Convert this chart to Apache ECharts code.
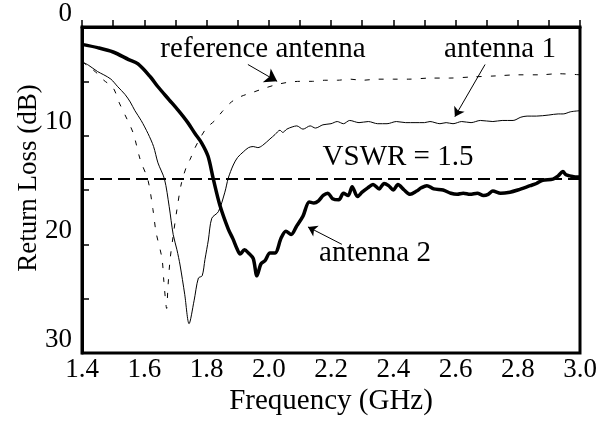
<!DOCTYPE html>
<html>
<head>
<meta charset="utf-8">
<script src="https://cdn.jsdelivr.net/npm/echarts@6/dist/echarts.min.js"></script>
<style>
html,body{margin:0;padding:0;background:#fff;}
#chart{width:604px;height:421px;}
</style>
</head>
<body>
<div id="chart"></div>
<script>
// ---- data ----
const xTickLabels = ['1.4','1.6','1.8','2.0','2.2','2.4','2.6','2.8','3.0'];
const yTickLabels = ['0','10','20','30'];

const freqAnt2 = [1.40,1.45,1.50,1.55,1.58,1.62,1.644,1.68,1.71,1.74,1.763,1.785,1.805,1.822,1.843,1.87,1.885,1.898,1.908,1.922,1.935,1.95,1.962,1.975,1.988,2.004,2.02,2.04,2.055,2.072,2.09,2.11,2.13,2.145,2.16,2.175,2.19,2.205,2.225,2.24,2.255,2.268,2.285,2.30,2.318,2.335,2.355,2.37,2.385,2.40,2.415,2.435,2.454,2.475,2.49,2.508,2.53,2.56,2.585,2.605,2.625,2.647,2.67,2.69,2.705,2.72,2.745,2.775,2.80,2.84,2.86,2.88,2.913,2.93,2.945,2.955,2.968,2.985,3.00];
const rlAnt2   = [1.6,1.9,2.3,3.0,3.4,4.6,5.5,6.7,7.7,8.8,9.8,10.7,11.9,14.0,16.4,18.6,19.5,20.4,20.9,20.5,20.8,21.3,22.9,21.8,21.5,20.8,20.8,19.4,18.8,19.1,18.3,17.4,16.1,16.2,16.0,15.5,15.3,15.8,15.9,15.3,15.5,14.7,15.6,15.2,14.8,14.5,14.9,14.4,14.6,15.0,14.5,15.0,15.4,15.1,14.8,14.6,14.9,15.0,15.3,15.4,15.3,15.4,15.3,15.5,15.4,15.1,15.3,15.2,15.0,14.6,14.4,14.1,14.0,13.7,13.3,13.6,13.7,13.8,13.8];

const freqAnt1 = [1.40,1.42,1.45,1.47,1.493,1.515,1.538,1.555,1.57,1.59,1.612,1.63,1.644,1.665,1.68,1.693,1.705,1.715,1.73,1.744,1.76,1.774,1.786,1.795,1.806,1.817,1.838,1.859,1.87,1.886,1.90,1.918,1.935,1.95,1.965,1.98,2.004,2.02,2.036,2.045,2.058,2.075,2.09,2.11,2.133,2.15,2.174,2.20,2.22,2.24,2.26,2.29,2.32,2.35,2.38,2.41,2.44,2.47,2.50,2.518,2.55,2.57,2.592,2.62,2.65,2.68,2.72,2.75,2.785,2.81,2.83,2.86,2.90,2.93,2.946,2.97,3.00];
const rlAnt1   = [3.2,3.5,4.1,4.4,4.8,5.5,6.2,6.9,7.7,8.6,9.8,11.0,12.5,14.0,16.5,19.1,20.5,21.9,24.6,27.3,25.2,23.1,22.9,21.4,19.6,17.6,17.0,15.2,13.9,12.7,12.0,11.5,11.1,11.0,11.1,10.9,10.3,9.9,9.5,9.7,9.4,9.2,9.1,9.4,9.1,9.3,9.0,8.9,8.7,8.9,8.6,8.8,8.7,8.9,8.9,8.7,8.8,8.8,8.8,8.7,8.9,8.8,8.9,8.7,8.8,8.6,8.7,8.6,8.6,8.3,8.2,8.2,8.1,8.0,8.0,7.8,7.7];

const freqRef = [1.40,1.42,1.45,1.47,1.50,1.52,1.545,1.565,1.587,1.612,1.628,1.638,1.657,1.663,1.672,1.676,1.683,1.693,1.705,1.72,1.74,1.747,1.76,1.78,1.80,1.827,1.85,1.88,1.91,1.95,1.99,2.025,2.06,2.10,2.14,2.18,2.22,2.26,2.30,2.35,2.40,2.45,2.52,2.58,2.65,2.73,2.80,2.87,2.93,3.00];
const rlRef   = [3.2,3.6,4.3,4.9,5.6,7.0,8.5,9.8,12.2,14.1,16.8,18.9,21.3,23.4,25.9,24.0,21.4,19.2,16.8,14.3,12.5,12.2,11.3,10.2,9.3,8.6,7.8,6.9,6.4,6.0,5.6,5.3,5.1,5.0,5.0,4.9,4.9,4.8,4.9,4.8,4.8,4.8,4.7,4.7,4.6,4.5,4.4,4.4,4.3,4.4];

const vswrLevel = 14; // VSWR = 1.5 -> ~14 dB

// annotation arrows (data coordinates: [freq, dB])
const arrowRef  = [[1.933, 3.45], [2.027, 5.0]];
const arrowAnt1 = [[2.695, 3.45], [2.598, 8.25]];
const arrowAnt2 = [[2.235, 20.0], [2.126, 18.4]];

// ---- chart ----
const FONT = "'Liberation Serif', 'Times New Roman', serif";
const zip = (xs, ys) => xs.map((x, i) => [x, ys[i]]);
const arrowLine = (a, size) => [[{coord: a[0], symbol: 'none'}, {coord: a[1], symbol: 'arrow', symbolSize: size}]];

const chart = echarts.init(document.getElementById('chart'), null, {renderer: 'canvas'});
chart.setOption({
  animation: false,
  backgroundColor: '#fff',
  grid: {left: 82, right: 24, top: 22, bottom: 68, show: true, borderColor: '#000', borderWidth: 3, backgroundColor: 'transparent'},
  xAxis: {
    type: 'value', min: 1.4, max: 3.0, interval: 0.2,
    name: 'Frequency (GHz)', nameLocation: 'middle', nameGap: 34, nameMoveOverlap: false,
    nameTextStyle: {fontFamily: FONT, fontSize: 29, color: '#000'},
    axisLine: {show: true, lineStyle: {color: '#000', width: 3}},
    axisTick: {show: true, inside: true, length: 7, lineStyle: {color: '#000', width: 1.5}},
    minorTick: {show: true, splitNumber: 2, length: 7, lineStyle: {color: '#000', width: 1.5}},
    splitLine: {show: false}, minorSplitLine: {show: false},
    axisLabel: {
      fontFamily: FONT, fontSize: 27, color: '#000', margin: 3,
      formatter: v => xTickLabels[Math.round((v - 1.4) / 0.2)] || ''
    }
  },
  yAxis: {
    type: 'value', inverse: true, min: 0, max: 30, interval: 10,
    name: 'Return Loss (dB)', nameLocation: 'middle', nameGap: 40, nameRotate: 90, nameMoveOverlap: false,
    nameTextStyle: {fontFamily: FONT, fontSize: 27, color: '#000', padding: [0, 0, 0, 24]},
    axisLine: {show: true, lineStyle: {color: '#000', width: 3}},
    axisTick: {show: true, inside: true, length: 7, lineStyle: {color: '#000', width: 1.5}},
    minorTick: {show: true, splitNumber: 2, length: 7, lineStyle: {color: '#000', width: 1.5}},
    splitLine: {show: false}, minorSplitLine: {show: false},
    axisLabel: {
      fontFamily: FONT, fontSize: 27, color: '#000', margin: 10, verticalAlign: 'bottom',
      formatter: v => yTickLabels[Math.round(v / 10)] || ''
    }
  },
  series: [
    {
      name: 'reference antenna', type: 'line', data: zip(freqRef, rlRef),
      showSymbol: false, smooth: 0.3,
      lineStyle: {color: '#000', width: 1, type: [5, 9]},
      markLine: {silent: true, animation: false, label: {show: false},
        lineStyle: {color: '#000', width: 1, type: 'solid'},
        data: arrowLine(arrowRef, 12)}
    },
    {
      name: 'antenna 1', type: 'line', data: zip(freqAnt1, rlAnt1),
      showSymbol: false, smooth: 0.3,
      lineStyle: {color: '#000', width: 1},
      markLine: {silent: true, animation: false, label: {show: false},
        lineStyle: {color: '#000', width: 1, type: 'solid'},
        data: arrowLine(arrowAnt1, 9)}
    },
    {
      name: 'antenna 2', type: 'line', data: zip(freqAnt2, rlAnt2),
      showSymbol: false, smooth: 0.3,
      lineStyle: {color: '#000', width: 3.5},
      markLine: {silent: true, animation: false, label: {show: false},
        lineStyle: {color: '#000', width: 1, type: 'solid'},
        data: arrowLine(arrowAnt2, 9)}
    },
    {
      name: 'VSWR = 1.5', type: 'line', data: [],
      markLine: {silent: true, animation: false, symbol: ['none', 'none'], label: {show: false},
        lineStyle: {color: '#000', width: 2, type: [12, 6]},
        data: [{yAxis: vswrLevel}]}
    }
  ],
  graphic: [
    {type: 'text', x: 263, y: 49, style: {text: 'reference antenna', font: "29px " + FONT, fill: '#000', textAlign: 'center', textVerticalAlign: 'middle'}},
    {type: 'text', x: 500, y: 49, style: {text: 'antenna 1', font: "29px " + FONT, fill: '#000', textAlign: 'center', textVerticalAlign: 'middle'}},
    {type: 'text', x: 398, y: 157, style: {text: 'VSWR = 1.5', font: "29px " + FONT, fill: '#000', textAlign: 'center', textVerticalAlign: 'middle'}},
    {type: 'text', x: 375, y: 253, style: {text: 'antenna 2', font: "29px " + FONT, fill: '#000', textAlign: 'center', textVerticalAlign: 'middle'}}
  ]
});
</script>
</body>
</html>
